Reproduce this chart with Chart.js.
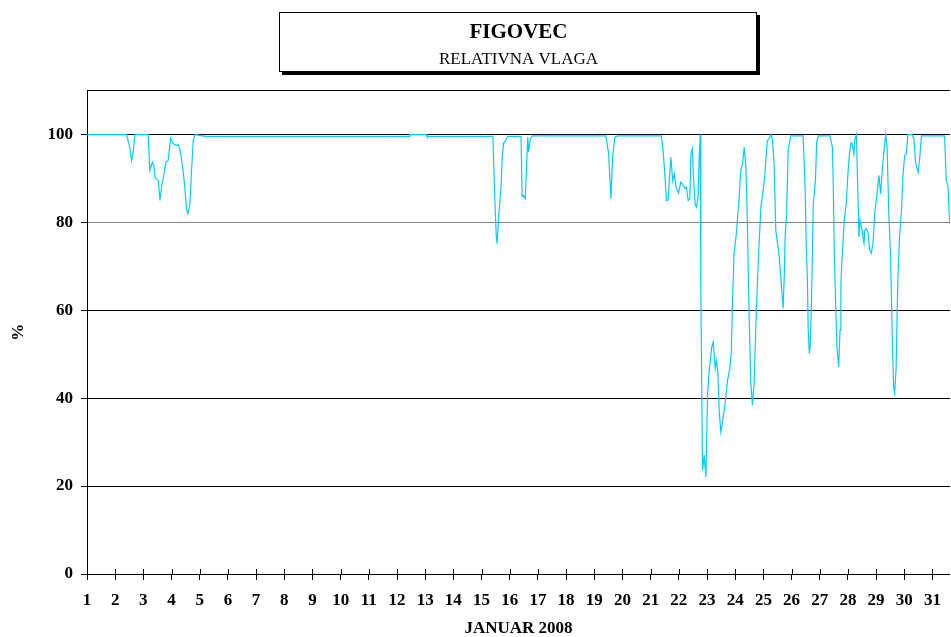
<!DOCTYPE html>
<html>
<head>
<meta charset="utf-8">
<title>FIGOVEC - relativna vlaga</title>
<script src="https://cdn.jsdelivr.net/npm/chart.js@4.4.1/dist/chart.umd.min.js"></script>
<style>
    html, body { margin: 0; padding: 0; background: #fff; }
    #wrap { width: 951px; height: 637px; position: relative; }
</style>
</head>
<body>
<div id="wrap"><canvas id="rhChart"></canvas></div>
<script>
// hourly relative humidity, January 2008 (day as decimal)
const days = [
    1.00, 2.40, 2.52, 2.58, 2.64, 2.70, 3.17, 3.23, 3.32, 3.37, 3.41, 3.53, 3.59, 3.65, 3.70,
    3.80, 3.88, 3.97, 4.06, 4.18, 4.24, 4.30, 4.36, 4.41, 4.47, 4.53, 4.58, 4.65, 4.71, 4.77,
    4.83, 5.20, 12.44, 12.46, 13.04, 13.06, 15.40, 15.46, 15.52, 15.55, 15.61, 15.69, 15.73,
    15.78, 15.85, 15.93, 16.40, 16.44, 16.49, 16.55, 16.60, 16.64, 16.67, 16.73, 16.81, 19.41,
    19.51, 19.59, 19.65, 19.73, 19.83, 21.38, 21.44, 21.51, 21.56, 21.62, 21.66, 21.72, 21.78,
    21.84, 21.90, 21.99, 22.07, 22.13, 22.22, 22.27, 22.33, 22.39, 22.43, 22.48, 22.52, 22.58,
    22.63, 22.68, 22.72, 22.76, 22.78, 22.84, 22.90, 22.96, 23.02, 23.08, 23.17, 23.22, 23.29,
    23.33, 23.38, 23.43, 23.49, 23.55, 23.64, 23.73, 23.81, 23.86, 23.90, 23.96, 24.04, 24.14,
    24.20, 24.26, 24.32, 24.38, 24.43, 24.49, 24.55, 24.61, 24.67, 24.73, 24.82, 24.91, 25.03,
    25.14, 25.20, 25.26, 25.32, 25.38, 25.44, 25.56, 25.70, 25.74, 25.77, 25.82, 25.88, 25.97,
    26.41, 26.48, 26.52, 26.56, 26.59, 26.63, 26.66, 26.70, 26.74, 26.77, 26.85, 26.89, 26.95,
    27.36, 27.45, 27.48, 27.52, 27.57, 27.61, 27.67, 27.72, 27.75, 27.80, 27.87, 27.94, 28.00,
    28.06, 28.11, 28.15, 28.21, 28.25, 28.30, 28.35, 28.39, 28.43, 28.46, 28.50, 28.53, 28.57,
    28.60, 28.65, 28.71, 28.77, 28.83, 28.89, 28.95, 29.02, 29.10, 29.16, 29.22, 29.28, 29.34,
    29.39, 29.45, 29.51, 29.57, 29.62, 29.66, 29.71, 29.77, 29.83, 29.90, 29.95, 30.01, 30.07,
    30.13, 30.28, 30.34, 30.40, 30.49, 30.54, 30.61, 31.43, 31.49, 31.55, 31.61
];
const rh = [
    100, 100, 97.1, 94.1, 96.0, 100, 100, 91.8, 93.7, 93.0, 90.3, 89.5, 85.0, 88.4, 89.9,
    93.7, 94.1, 99.2, 97.9, 97.5, 97.7, 96.4, 94.1, 91.8, 88.0, 83.1, 82.0, 84.2, 91.8, 98.6,
    100, 99.6, 99.6, 100, 100, 99.6, 99.6, 87.3, 77.0, 75.2, 81.6, 88.0, 94.5,
    98.0, 98.6, 99.6, 99.6, 85.9, 86.1, 85.4, 93.3, 99.4, 96.0, 99.0, 99.7, 99.7,
    95.6, 85.4, 94.8, 99.4, 99.7, 99.7, 96.4, 90.3, 85.0, 85.1, 89.5, 94.8, 89.5,
    91.1, 88.0, 86.7, 89.2, 88.8, 87.7, 88.0, 85.0, 85.4, 95.6, 96.7, 90.3, 84.2,
    83.5, 85.8, 94.1, 100, 65.3, 23.6, 27.0, 22.1, 41.1, 46.4, 51.7, 52.8, 46.8,
    48.6, 46.4, 37.3, 32.3, 34.6, 38.8, 44.1, 46.8, 50.2, 60.8, 72.9, 77.4, 85.8,
    91.8, 93.3, 97.1, 92.6, 80.5, 60.0, 44.1, 38.4, 43.3, 56.2, 71.4, 83.5, 89.2,
    98.6, 99.0, 100, 99.0, 93.3, 78.2, 72.5, 60.4, 67.6, 76.7, 81.2, 96.4, 99.7,
    99.7, 88.0, 75.2, 67.6, 55.5, 50.2, 51.7, 60.0, 72.9, 84.2, 89.9, 98.3, 99.7,
    99.7, 97.1, 88.0, 71.4, 60.0, 51.7, 47.1, 55.5, 66.1, 72.9, 80.5, 84.2, 91.1,
    96.0, 98.1, 97.9, 95.6, 99.0, 100, 87.3, 76.7, 80.5, 80.5, 78.2, 76.7, 75.3,
    78.2, 78.6, 77.8, 73.8, 73.0, 75.2, 82.0, 85.8, 90.7, 86.5, 91.8, 96.4, 100,
    97.1, 82.0, 72.9, 54.7, 42.6, 41.1, 47.1, 66.8, 76.7, 82.7, 90.3, 95.2, 95.6,
    100, 100, 99.0, 93.7, 91.4, 94.1, 99.7, 99.7, 89.5, 88.4, 79.7
];
const dayTicks = [1, 2, 3, 4, 5, 6, 7, 8, 9, 10, 11, 12, 13, 14, 15, 16,
    17, 18, 19, 20, 21, 22, 23, 24, 25, 26, 27, 28, 29, 30, 31];
const yTicks = [0, 20, 40, 60, 80, 100, 110];

const serif = "'Liberation Serif', 'Times New Roman', serif";

// framed title box with a drop shadow
const titleBox = {
    id: "titleBox",
    beforeDraw(chart) {
        const c = chart.ctx;
        c.save();
        c.fillStyle = "#000";
        c.fillRect(282, 15, 478, 60);
        c.fillStyle = "#fff";
        c.fillRect(279, 12, 478, 60);
        c.strokeStyle = "#000";
        c.lineWidth = 1;
        c.strokeRect(279.5, 12.5, 477, 59);
        c.restore();
    }
};

// x tick marks crossing the axis line
const crossTicks = {
    id: "crossTicks",
    afterDatasetsDraw(chart) {
        const c = chart.ctx, x = chart.scales.x, b = chart.chartArea.bottom;
        c.save();
        c.strokeStyle = "#000";
        c.lineWidth = 1;
        dayTicks.forEach(d => {
            const px = Math.round(x.getPixelForValue(d)) + 0.5;
            c.beginPath();
            c.moveTo(px, b - 5);
            c.lineTo(px, b);
            c.stroke();
        });
        c.restore();
    }
};

new Chart(document.getElementById("rhChart").getContext("2d"), {
    type: "line",
    data: {
        datasets: [{
            data: days.map((d, i) => ({ x: d, y: rh[i] })),
            borderColor: "#00CCFF",
            borderWidth: 1.2,
            pointRadius: 0,
            tension: 0,
            fill: false
        }]
    },
    options: {
        responsive: true,
        maintainAspectRatio: false,
        animation: false,
        layout: { padding: { top: 10, left: 0, right: 0, bottom: 0 } },
        plugins: {
            legend: { display: false },
            tooltip: { enabled: false },
            title: {
                display: true,
                fullSize: false,
                text: "FIGOVEC",
                color: "#000",
                font: { family: serif, size: 21, weight: "bold" },
                padding: { top: 10, bottom: 2 }
            },
            subtitle: {
                display: true,
                fullSize: false,
                text: "RELATIVNA VLAGA",
                color: "#000",
                font: { family: serif, size: 17, weight: "normal" },
                padding: { top: 2, bottom: 21 }
            }
        },
        scales: {
            x: {
                type: "linear",
                min: 1,
                max: 31.62,
                afterBuildTicks: s => { s.ticks = dayTicks.map(v => ({ value: v })); },
                afterFit: s => { s.height = 63; },
                grid: { drawOnChartArea: false, tickLength: 6, tickColor: "#000" },
                border: { color: "#000", width: 1 },
                ticks: {
                    color: "#000",
                    padding: 10,
                    maxRotation: 0,
                    autoSkip: false,
                    font: { family: serif, size: 17, weight: "bold" }
                },
                title: {
                    display: true,
                    text: "JANUAR 2008",
                    color: "#000",
                    font: { family: serif, size: 17, weight: "bold" },
                    padding: { top: 0, bottom: -2 }
                }
            },
            y: {
                min: 0,
                max: 110,
                afterBuildTicks: s => { s.ticks = yTicks.map(v => ({ value: v })); },
                afterFit: s => { s.width = 87; },
                grid: {
                    tickLength: 6,
                    color: ctx => (ctx.tick && ctx.tick.value === 80 ? "#808080" : "#000"),
                    tickColor: ctx => (ctx.tick && ctx.tick.value === 110 ? "rgba(0,0,0,0)" : "#000")
                },
                border: { color: "#000", width: 1 },
                ticks: {
                    color: "#000",
                    padding: 8,
                    font: { family: serif, size: 17, weight: "bold" },
                    callback: v => (v === 110 ? "" : v)
                },
                title: {
                    display: true,
                    text: "%",
                    color: "#000",
                    font: { family: serif, size: 17, weight: "bold" },
                    padding: { top: 8, bottom: 0 }
                }
            }
        }
    },
    plugins: [titleBox, crossTicks]
});
</script>
</body>
</html>
